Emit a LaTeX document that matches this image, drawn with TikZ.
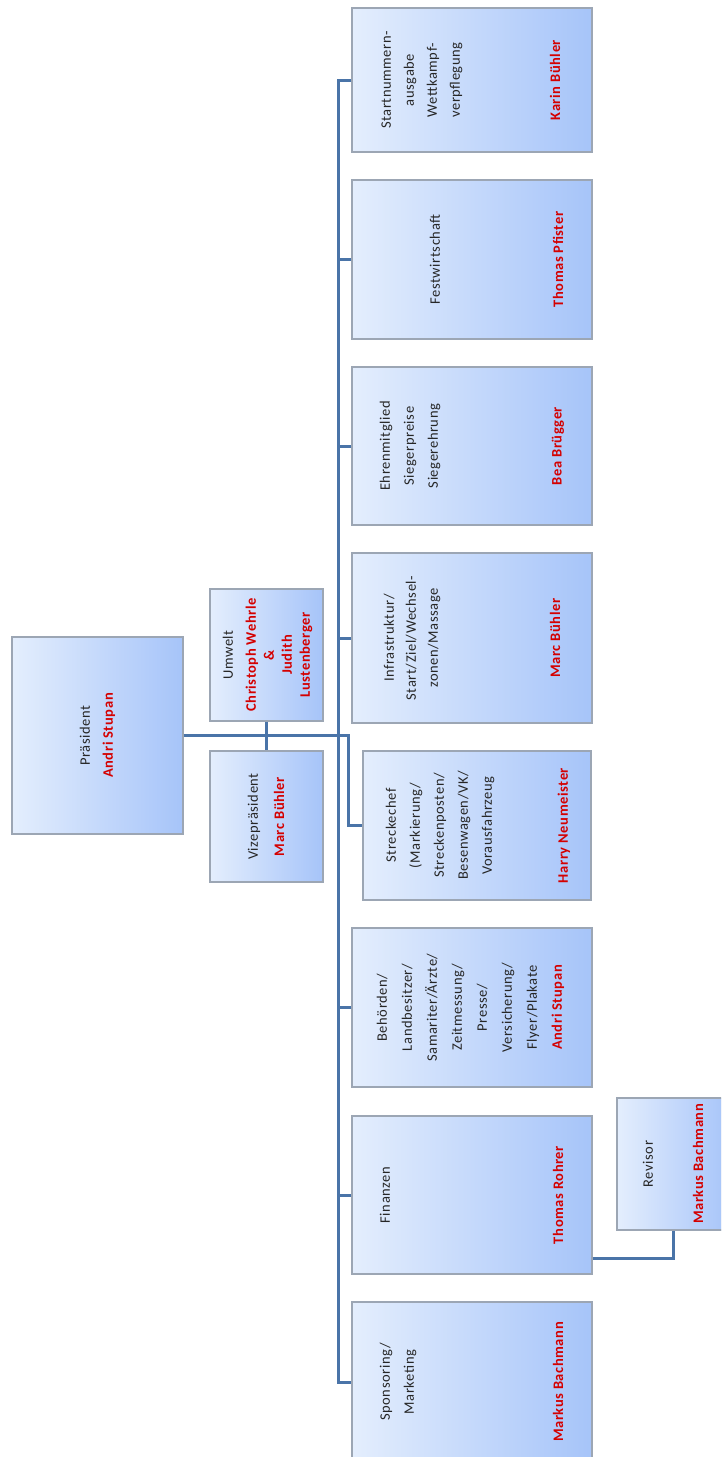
\documentclass[tikz,border=0pt]{standalone}
\usepackage{fontspec}
\setmainfont{Carlito}[LetterSpace=4]
\usetikzlibrary{shadows}
\definecolor{linkblue}{HTML}{4A74A8}
\definecolor{boxlight}{HTML}{E4EEFD}
\definecolor{boxdark}{HTML}{A6C4F9}
\definecolor{boxline}{HTML}{9CA6B4}
\definecolor{namered}{HTML}{D40000}

\begin{document}
\begin{tikzpicture}[
  x=1pt, y=-1pt,
  font=\fontsize{14.5}{18}\selectfont,
  orgbox/.style={rectangle, draw=boxline, line width=1.2pt, left color=boxlight, right color=boxdark, drop shadow={shadow xshift=1.2pt, shadow yshift=-1.2pt, opacity=0.25}},
  titletext/.style={rotate=90, align=center, text=black!85, font=\fontsize{14.5}{24}\selectfont},
  nametext/.style={rotate=90, align=center, text=namered, font=\fontsize{14.5}{18}\selectfont\bfseries},
  link/.style={draw=linkblue, line width=3pt}
]

\useasboundingbox (0,0) rectangle (721,1457);
\clip (0,0) rectangle (721,1457);
\fill [white] (0,0) rectangle (721,1457);

\node (pres) [orgbox, minimum width=171pt, minimum height=197pt] at (97.5,735.5) {};
\node (um) [orgbox, minimum width=113pt, minimum height=132pt] at (266.5,655) {};
\node (vz) [orgbox, minimum width=113pt, minimum height=131pt] at (266.5,816.5) {};
\node (sn) [orgbox, minimum width=240pt, minimum height=144pt] at (472,80) {};
\node (fw) [orgbox, minimum width=240pt, minimum height=159pt] at (472,259.5) {};
\node (eh) [orgbox, minimum width=240pt, minimum height=158pt] at (472,446) {};
\node (inf) [orgbox, minimum width=240pt, minimum height=170pt] at (472,638) {};
\node (sc) [orgbox, minimum width=228pt, minimum height=149pt] at (477,825.5) {};
\node (bh) [orgbox, minimum width=240pt, minimum height=159pt] at (472,1007.5) {};
\node (fin) [orgbox, minimum width=240pt, minimum height=158pt] at (472,1195) {};
\node (sp) [orgbox, minimum width=240pt, minimum height=160pt] at (472,1382) {};
\node (rev) [orgbox, minimum width=113pt, minimum height=132pt] at (673.5,1164) {};

\node (pres-t) [titletext] at (85,735.5) {Präsident};
\node (pres-n) [nametext] at (109,735.5) {Andri Stupan};
\node (um-t) [titletext] at (228,655) {Umwelt};
\node (um-n) [nametext] at (279,655) {Christoph Wehrle\\\&\\Judith\\Lustenberger};
\node (vz-t) [titletext] at (254,816.5) {Vizepräsident};
\node (vz-n) [nametext] at (279,816.5) {Marc Bühler};
\node (sn-t) [titletext, font=\fontsize{14.5}{23}\selectfont] at (422,80) {Startnummern-\\ausgabe\\Wettkampf-\\verpflegung};
\node (sn-n) [nametext] at (555,80) {Karin Bühler};
\node (fw-t) [titletext] at (435,259.5) {Festwirtschaft};
\node (fw-n) [nametext] at (558,259.5) {Thomas Pfister};
\node (eh-t) [titletext] at (410,446) {Ehrenmitglied\\Siegerpreise\\Siegerehrung};
\node (eh-n) [nametext] at (558,446) {Bea Brügger};
\node (inf-t) [titletext, font=\fontsize{14.5}{22}\selectfont] at (412,638) {Infrastruktur/\\Start/Ziel/Wechsel-\\zonen/Massage};
\node (inf-n) [nametext] at (555,638) {Marc Bühler};
\node (sc-t) [titletext] at (440,825.5) {Streckechef\\(Markierung/\\Streckenposten/\\Besenwagen/VK/\\Vorausfahrzeug};
\node (sc-n) [nametext] at (564,825.5) {Harry Neumeister};
\node (bh-t) [titletext, font=\fontsize{14.5}{25}\selectfont] at (458,1007.5) {Behörden/\\Landbesitzer/\\Samariter/Ärzte/\\Zeitmessung/\\Presse/\\Versicherung/\\Flyer/Plakate};
\node (bh-n) [nametext] at (558,1007.5) {Andri Stupan};
\node (fin-t) [titletext] at (385,1195) {Finanzen};
\node (fin-n) [nametext] at (558,1195) {Thomas Rohrer};
\node (sp-t) [titletext] at (398,1382) {Sponsoring/\\Marketing};
\node (sp-n) [nametext] at (558,1382) {Markus Bachmann};
\node (rev-t) [titletext] at (648,1164) {Revisor};
\node (rev-n) [nametext] at (698,1164) {Markus Bachmann};

\coordinate (spine) at (338,0);
\coordinate (kink) at (348,0);

\draw [link] (sn.west) -- (sn.west -| spine) -- (sp.west -| spine) -- (sp.west);
\foreach \b in {fw,eh,inf,bh,fin}
  \draw [link] (\b.west) -- (\b.west -| spine);
\draw [link] (pres.east) -| (kink |- sc.west) -- (sc.west);
\draw [link] (um.south) -- (vz.north);
\draw [link] ([yshift=16pt]fin.south east) -| (rev.south);

\end{tikzpicture}
\end{document}
